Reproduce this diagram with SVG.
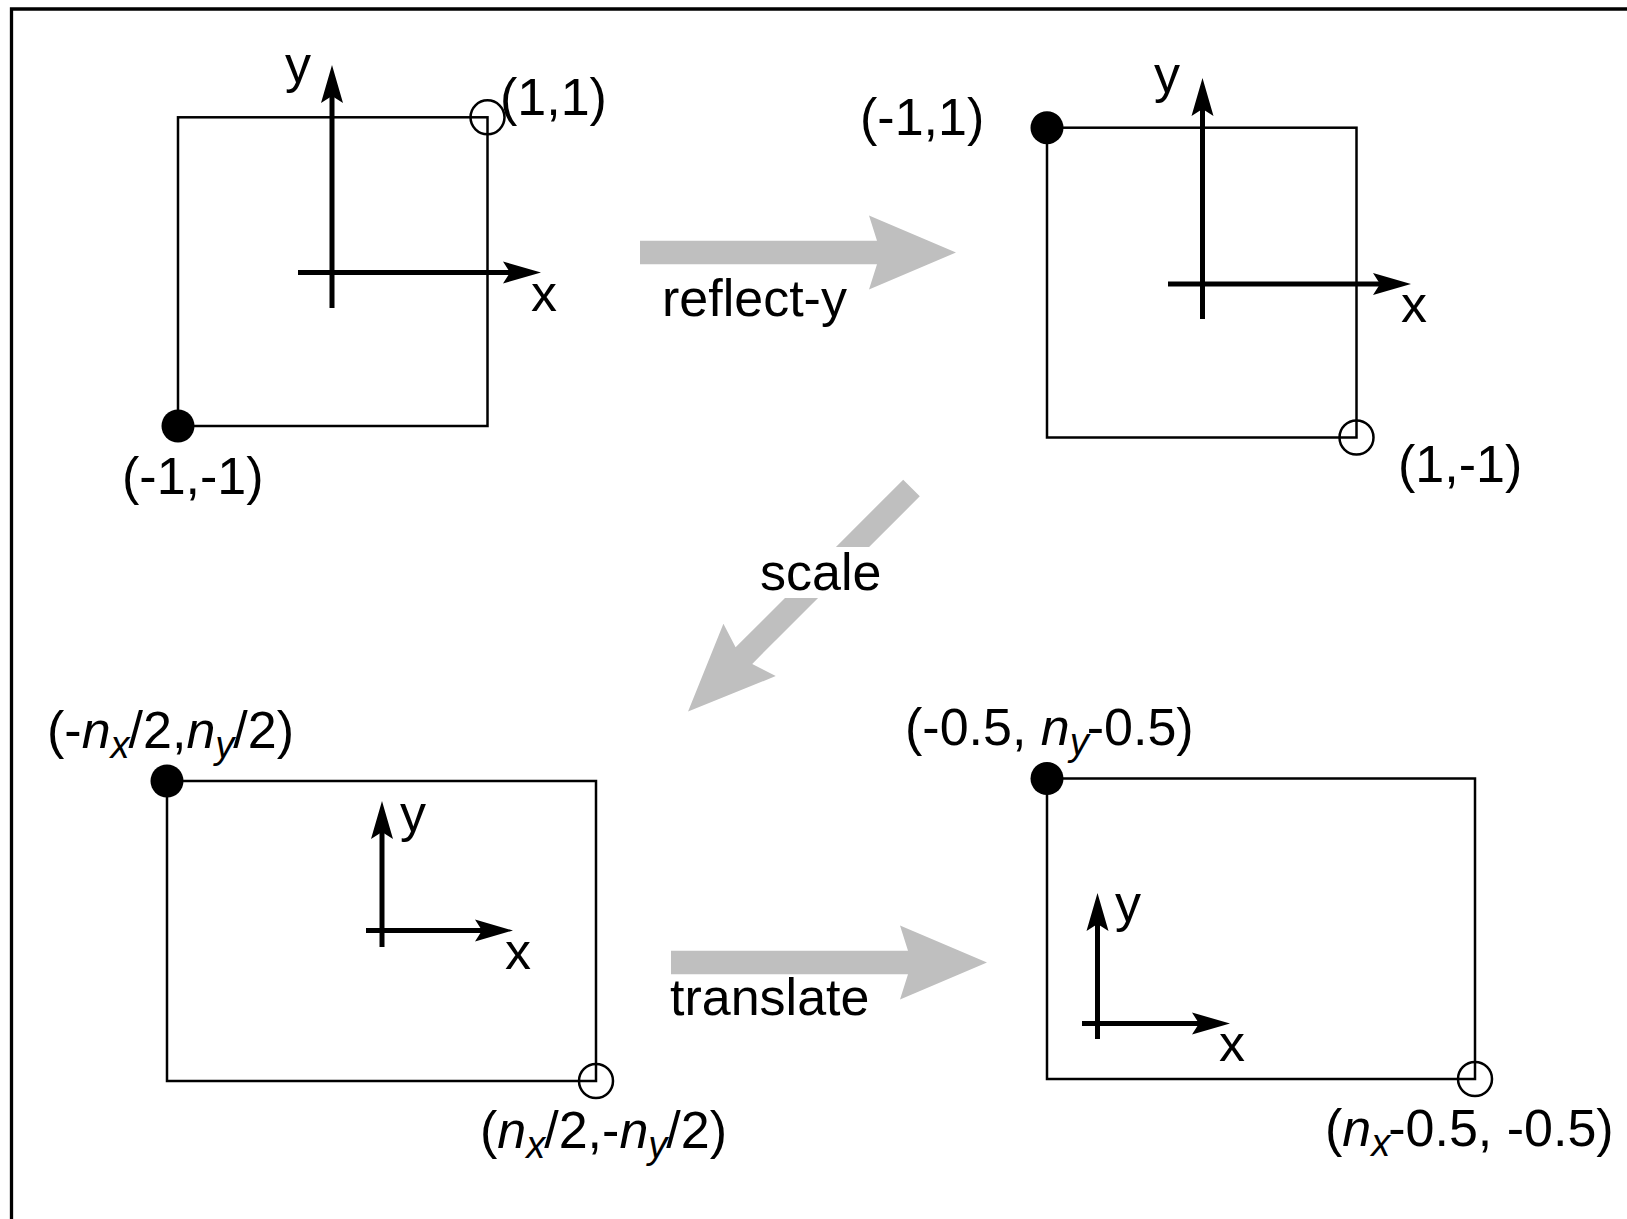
<svg xmlns="http://www.w3.org/2000/svg" width="1627" height="1219" viewBox="0 0 1627 1219">
<style>
  text { font-family: "Liberation Sans", Arial, Helvetica, sans-serif; font-size: 52px; fill: #000; }
  .i { font-style: italic; }
  .sub { font-size: 38px; }
  .box { fill: none; stroke: #000; stroke-width: 2.5; }
  .axis { fill: none; stroke: #000; stroke-width: 5; marker-end: url(#ah); }
  .dot { fill: #000; }
  .ring { fill: none; stroke: #000; stroke-width: 2.5; }
  .big { fill: #bfbfbf; }
</style>
<defs>
  <marker id="ah" viewBox="0 -12 40 24" markerWidth="40" markerHeight="24" refX="7" refY="0" orient="auto" markerUnits="userSpaceOnUse">
    <path d="M0,-11 L38,0 L0,11 L7,0 Z" fill="#000"/>
  </marker>
  <path id="bigArrow" d="M0,-11.75 H237 L229,-37 L316,0 L229,37 L237,11.75 H0 Z"/>
</defs>
<rect width="1627" height="1219" fill="#fff"/>
<path d="M11.5,1230 V9 H1640" fill="none" stroke="#000" stroke-width="3.3"/>

<g id="panel1">
  <rect class="box" x="178" y="117.3" width="309.5" height="308.7"/>
  <path class="axis" d="M332,308 V96"/>
  <path class="axis" d="M298,272.5 H510"/>
  <circle class="dot" cx="178" cy="426" r="16.5"/>
  <circle class="ring" cx="487.5" cy="117.3" r="17"/>
  <text x="285" y="82">y</text>
  <text x="531" y="311">x</text>
  <text x="500" y="115">(1,1)</text>
  <text x="122" y="494">(-1,-1)</text>
</g>

<g id="panel2">
  <rect class="box" x="1047" y="127.7" width="309.5" height="309.8"/>
  <path class="axis" d="M1202.5,319 V109"/>
  <path class="axis" d="M1168,284 H1380"/>
  <circle class="dot" cx="1047" cy="127.7" r="16.5"/>
  <circle class="ring" cx="1356.5" cy="437.5" r="17"/>
  <text x="1154" y="92">y</text>
  <text x="1401" y="322">x</text>
  <text x="860" y="135">(-1,1)</text>
  <text x="1398" y="482">(1,-1)</text>
</g>

<g id="panel3">
  <rect class="box" x="167" y="781" width="429" height="300"/>
  <path class="axis" d="M382,947 V832"/>
  <path class="axis" d="M366,930.5 H482"/>
  <circle class="dot" cx="167" cy="781" r="16.5"/>
  <circle class="ring" cx="596" cy="1081" r="17"/>
  <text x="400" y="831">y</text>
  <text x="505" y="969">x</text>
  <text x="47" y="748">(-<tspan class="i">n</tspan><tspan class="i sub" dy="10">x</tspan><tspan dx="-1" dy="-10">/2,</tspan><tspan class="i">n</tspan><tspan class="i sub" dy="10">y</tspan><tspan dx="-1" dy="-10">/2)</tspan></text>
  <text x="480" y="1148">(<tspan class="i">n</tspan><tspan class="i sub" dy="10">x</tspan><tspan dx="-1" dy="-10">/2,-</tspan><tspan class="i">n</tspan><tspan class="i sub" dy="10">y</tspan><tspan dx="-1" dy="-10">/2)</tspan></text>
</g>

<g id="panel4">
  <rect class="box" x="1047" y="778.5" width="428" height="300.5"/>
  <path class="axis" d="M1097.5,1039 V924"/>
  <path class="axis" d="M1082,1023.5 H1199"/>
  <circle class="dot" cx="1047" cy="778.5" r="16.5"/>
  <circle class="ring" cx="1475" cy="1079" r="17"/>
  <text x="1115" y="921">y</text>
  <text x="1219" y="1061">x</text>
  <text x="905" y="745">(-0.5, <tspan class="i">n</tspan><tspan class="i sub" dy="10">y</tspan><tspan dx="-2" dy="-10">-0.5)</tspan></text>
  <text x="1325" y="1146">(<tspan class="i">n</tspan><tspan class="i sub" dy="10">x</tspan><tspan dx="-2" dy="-10">-0.5, -0.5)</tspan></text>
</g>

<g id="connectors">
  <use href="#bigArrow" class="big" transform="translate(640,252.5)"/>
  <use href="#bigArrow" class="big" transform="translate(911.5,488) rotate(135)"/>
  <use href="#bigArrow" class="big" transform="translate(671,962.5)"/>
  <text x="662" y="316">reflect-y</text>
  <rect x="752" y="547" width="136" height="51" fill="#fff"/>
  <text x="760" y="590">scale</text>
  <text x="670" y="1015">translate</text>
</g>
</svg>
